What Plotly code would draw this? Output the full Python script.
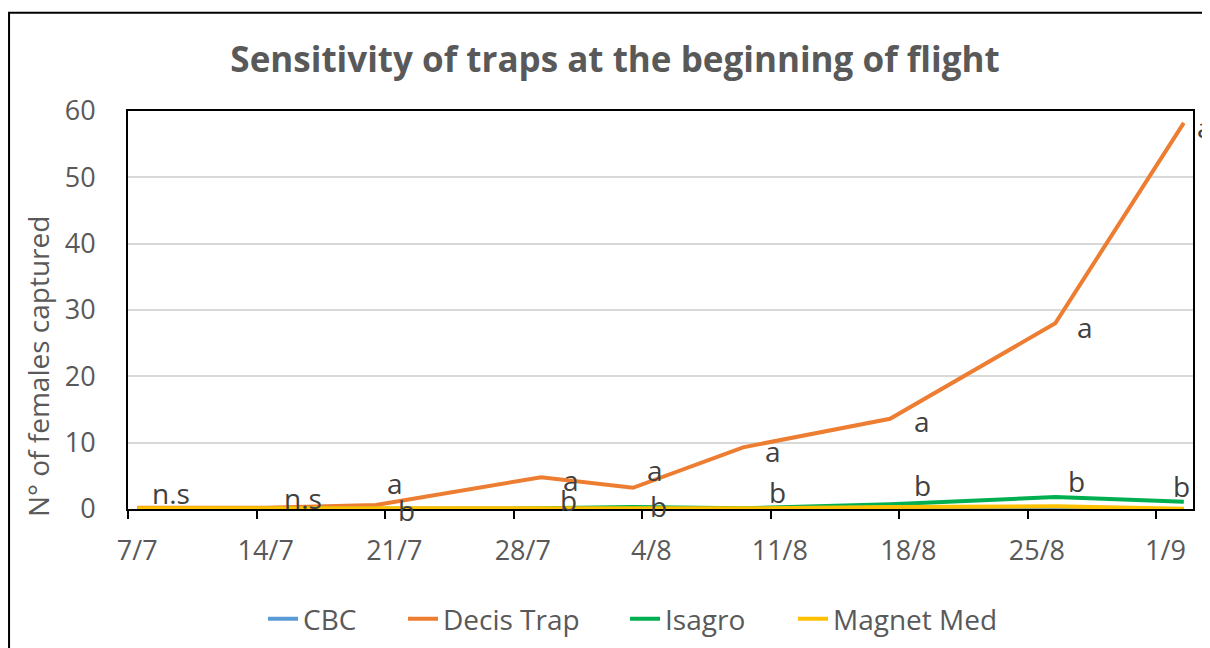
import plotly.graph_objects as go

# ---- data ----
dates = ["2021-07-07", "2021-07-14", "2021-07-20", "2021-07-29", "2021-08-03",
         "2021-08-09", "2021-08-17", "2021-08-26", "2021-09-02"]
cbc = [0, 0, 0, 0, 0, 0, 0, 0, 0]
decis = [0.2, 0.2, 0.6, 4.8, 3.2, 9.3, 13.6, 28.0, 58.2]
isagro = [0, 0, 0, 0.1, 0.3, 0.1, 0.7, 1.8, 1.1]
magnet = [0.1, 0.1, 0.1, 0.1, 0.1, 0.1, 0.3, 0.4, 0.05]
upper_letters = ["n.s", "n.s", "a", "a", "a", "a", "a", "a", "a"]
lower_letters = ["", "", "b", "b", "b", "b", "b", "b", "b"]
tick_dates = ["2021-07-07", "2021-07-14", "2021-07-21", "2021-07-28", "2021-08-04",
              "2021-08-11", "2021-08-18", "2021-08-25", "2021-09-01"]
tick_labels = ["7/7", "14/7", "21/7", "28/7", "4/8", "11/8", "18/8", "25/8", "1/9"]

# label offsets in pixels (style only)
upper_off = [(34, 15), (37, 10), (19, 22), (30, -3), (22, 18), (30, -4), (32, -2), (30, -4), (21, -4)]
lower_off = [(0, 0), (0, 0), (31, -1), (27, 8), (26, 1), (34, 16), (32, 19), (21, 16), (-2, 16)]
legend_x = [0.1268, 0.2582, 0.4667, 0.6244]

FONT = "Open Sans"
GREY = "#595959"
xs = [d + "T12:00:00" for d in dates]

fig = go.Figure()
series = [("CBC", cbc, "#5B9BD5"), ("Decis Trap", decis, "#ED7D31"),
          ("Isagro", isagro, "#00B050"), ("Magnet Med", magnet, "#FFC000")]
legend_ids = ["legend", "legend2", "legend3", "legend4"]
for (name, vals, col), lid in zip(series, legend_ids):
    fig.add_trace(go.Scatter(x=xs, y=vals, name=name, mode="lines", legend=lid,
                             showlegend=True,
                             line=dict(color=col, width=4), cliponaxis=False))

ann = []
for i, t in enumerate(upper_letters):
    if t:
        ann.append(dict(x=xs[i], y=decis[i], text=t, showarrow=False,
                        xshift=upper_off[i][0], yshift=upper_off[i][1],
                        font=dict(family=FONT, size=28, color="#404040")))
for i, t in enumerate(lower_letters):
    if t:
        ann.append(dict(x=xs[i], y=isagro[i], text=t, showarrow=False,
                        xshift=lower_off[i][0], yshift=lower_off[i][1],
                        font=dict(family=FONT, size=28, color="#404040")))
ann.append(dict(xref="paper", yref="paper", x=-0.0845, y=0.3566, text="N° of females captured",
                textangle=-90, showarrow=False, xanchor="center", yanchor="middle",
                font=dict(family=FONT, size=28, color=GREY)))

legend_style = dict(orientation="h", xanchor="left", y=-0.2768, yanchor="middle",
                    font=dict(family=FONT, size=28, color=GREY), bgcolor="rgba(0,0,0,0)",
                    itemwidth=30, borderwidth=0)
layout_legends = {lid: dict(legend_style, x=lx) for lid, lx in zip(legend_ids, legend_x)}

fig.update_layout(
    width=1202, height=648,
    margin=dict(l=120, r=17, t=103, b=144),
    showlegend=True,
    paper_bgcolor="white", plot_bgcolor="white",
    font=dict(family=FONT, color=GREY),
    title=dict(text="<b>Sensitivity of traps at the beginning of flight</b>",
               x=0.505, xanchor="center", y=1 - 52 / 648, yanchor="middle",
               font=dict(family=FONT, size=35, color=GREY)),
    annotations=ann,
    shapes=[dict(type="rect", xref="paper", yref="paper",
                 x0=-0.1117, x1=1.3, y0=-0.6, y1=1.2469,
                 line=dict(color="black", width=2), fillcolor="rgba(0,0,0,0)", layer="below")],
    **layout_legends,
)
fig.update_xaxes(
    type="date", range=["2021-07-07", "2021-09-03"],
    tickvals=[d + "T12:00:00" for d in tick_dates], ticktext=tick_labels,
    ticks="", showgrid=False, zeroline=False,
    showline=True, linecolor="black", linewidth=2, mirror=True,
    tickfont=dict(family=FONT, size=27, color=GREY),
    ticklabelstandoff=17,
    minor=dict(ticks="outside", ticklen=8, tickcolor="black", tickwidth=2,
               tick0="2021-07-07", dtick=7 * 86400000, showgrid=False),
)
fig.update_yaxes(
    range=[0, 60], dtick=10, ticks="",
    showgrid=True, gridcolor="#d9d9d9", gridwidth=1.5, zeroline=False,
    showline=True, linecolor="black", linewidth=2, mirror=True,
    tickfont=dict(family=FONT, size=27, color=GREY),
    ticklabelstandoff=25,
)

fig.write_html("out.html")
